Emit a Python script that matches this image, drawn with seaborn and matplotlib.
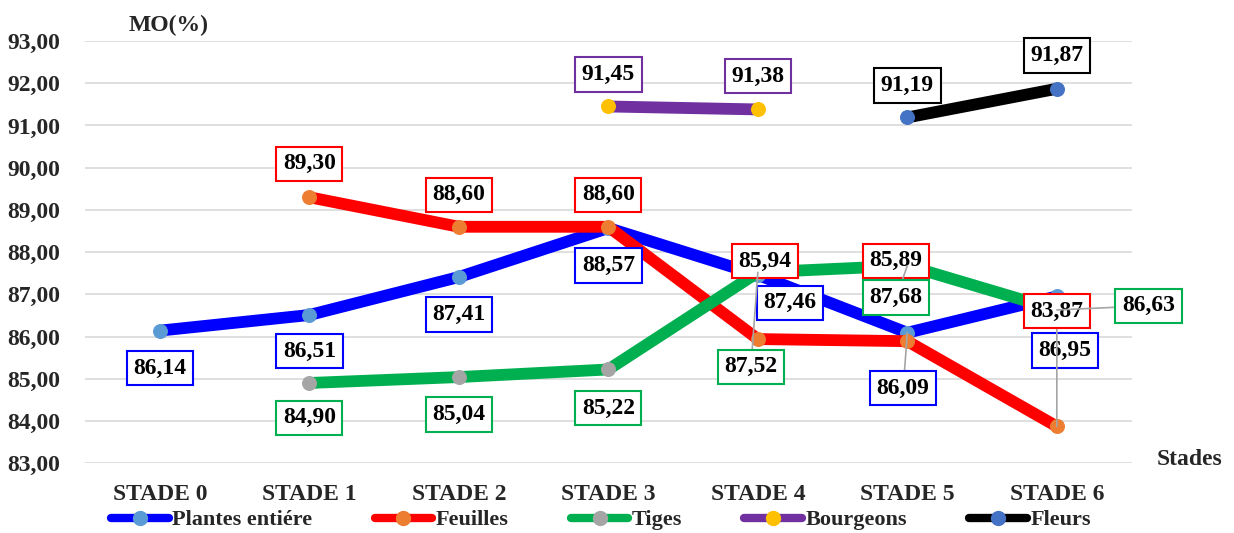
import numpy as np
import pandas as pd
import matplotlib.pyplot as plt
import seaborn as sns
from matplotlib.lines import Line2D

stades = ["STADE 0", "STADE 1", "STADE 2", "STADE 3", "STADE 4", "STADE 5", "STADE 6"]
plantes = [86.14, 86.51, 87.41, 88.57, 87.46, 86.09, 86.95]
feuilles = [np.nan, 89.30, 88.60, 88.60, 85.94, 85.89, 83.87]
tiges = [np.nan, 84.90, 85.04, 85.22, 87.52, 87.68, 86.63]
bourgeons = [np.nan, np.nan, np.nan, 91.45, 91.38, np.nan, np.nan]
fleurs = [np.nan, np.nan, np.nan, np.nan, np.nan, 91.19, 91.87]

series_names = ["Plantes entiére", "Feuilles", "Tiges", "Bourgeons", "Fleurs"]
series_values = [plantes, feuilles, tiges, bourgeons, fleurs]

# line colour, marker colour
styles = {
    "Plantes entiére": ("#0000FF", "#5B9BD5"),
    "Feuilles": ("#FF0000", "#ED7D31"),
    "Tiges": ("#00B050", "#A5A5A5"),
    "Bourgeons": ("#7030A0", "#FFC000"),
    "Fleurs": ("#000000", "#4472C4"),
}

# label offsets in points (dx, dy) per series, per stade
offsets = {
    "Plantes entiére": [(0, -27), (0, -26), (0, -27), (0, -27), (23, -20), (-3, -40), (6, -39)],
    "Feuilles": [None, (0, 24), (0, 23), (0, 23), (5, 56), (-8, 58), (0, 83)],
    "Tiges": [None, (0, -25), (0, -27), (0, -28), (-5, -68), (-8, -23), (66, 3)],
    "Bourgeons": [None, None, None, (0, 23), (0, 24), None, None],
    "Fleurs": [None, None, None, None, None, (0, 23), (0, 24)],
}
leaders = {("Tiges", 4), ("Tiges", 5), ("Tiges", 6), ("Feuilles", 6), ("Plantes entiére", 5)}

sns.set_theme(style="white")
plt.rcParams["font.family"] = ["Liberation Serif", "DejaVu Serif"]

fig = plt.figure(figsize=(12.34, 5.33), dpi=100)
ax = fig.add_axes([0.069, 0.131, 0.848, 0.792])

x = np.arange(len(stades))
for name, vals in zip(series_names, series_values):
    lc, mc = styles[name]
    df = pd.DataFrame({"x": x, "y": vals}).dropna()
    sns.lineplot(data=df, x="x", y="y", ax=ax, color=lc, linewidth=8.5,
                 marker="o", markersize=10, markerfacecolor=mc,
                 markeredgecolor=mc, solid_capstyle="butt")

for name, vals in zip(series_names, series_values):
    lc, mc = styles[name]
    for i, v in enumerate(vals):
        if np.isnan(v):
            continue
        dx, dy = offsets[name][i]
        arrow = None
        if (name, i) in leaders:
            arrow = dict(arrowstyle="-", color="#A5A5A5", lw=1.2, shrinkA=0, shrinkB=0)
        ax.annotate(f"{v:.2f}".replace(".", ","), (i, v), xytext=(dx, dy),
                    textcoords="offset points", ha="center", va="center",
                    fontsize=17, fontweight="bold", color="black",
                    bbox=dict(boxstyle="square,pad=0.28", fc="white", ec=lc, lw=1.5),
                    arrowprops=arrow, zorder=5)

ax.set_xlim(-0.5, 6.5)
ax.set_ylim(83, 93)
ax.set_yticks(np.arange(83, 94, 1))
ax.set_yticklabels([f"{t:.2f}".replace(".", ",") for t in np.arange(83, 94, 1)],
                   fontsize=17, fontweight="bold")
ax.set_xticks(x)
ax.set_xticklabels(stades, fontsize=17, fontweight="bold")
ax.tick_params(axis="x", pad=15, length=0)
ax.tick_params(axis="y", pad=18, length=0)
ax.grid(axis="y", color="#D9D9D9", linewidth=1.2)
ax.set_axisbelow(True)
for s in ax.spines.values():
    s.set_visible(False)
ax.set_xlabel("")
ax.set_ylabel("")

fig.text(0.137, 0.953, "MO(%)", fontsize=17, fontweight="bold", ha="center", va="center")
fig.text(0.964, 0.137, "Stades", fontsize=17, fontweight="bold", ha="center", va="center")

handles = [Line2D([0], [0], color=styles[n][0], lw=6, marker="o", markersize=10,
                  markerfacecolor=styles[n][1], markeredgecolor=styles[n][1])
           for n in series_names]
fig.legend(handles, series_names, loc="center", bbox_to_anchor=(0.487, 0.024), ncol=5,
           frameon=False, handlelength=2.6, handletextpad=0.15, columnspacing=2.8,
           prop={"size": 16, "weight": "bold"})

fig.savefig("out.png", dpi=100)
